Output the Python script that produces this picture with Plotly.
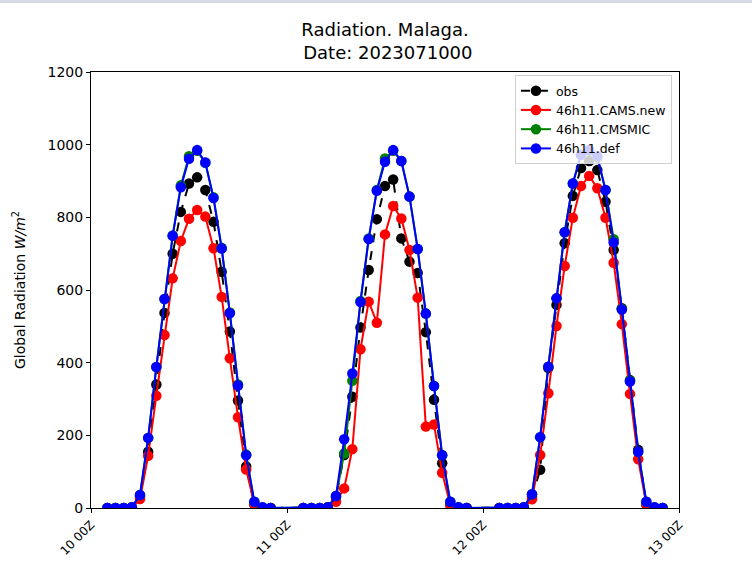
import pandas as pd
import plotly.graph_objects as go

# Hours (UTC) after 2023-07-10 00Z with data: 02Z..22Z on each of the three days
hours = [d * 24 + h for d in range(3) for h in range(2, 23)]

obs = [
    0, 0, 0, 2, 30, 155, 340, 537, 700, 815, 893, 910, 875, 788, 650, 486, 296, 114, 10, 0, 0,
    0, 0, 0, 2, 30, 146, 306, 497, 655, 795, 886, 904, 742, 678, 647, 484, 298, 123, 8, 0, 0,
    0, 0, 0, 2, 30, 105, 385, 559, 729, 859, 936, 955, 930, 843, 710, 550, 352, 160, 10, 0, 0,
]
cams_new = [
    0, 0, 0, 0, 25, 144, 309, 476, 632, 735, 796, 820, 802, 715, 581, 412, 250, 106, 10, 0, 0,
    0, 0, 0, 0, 17, 54, 162, 437, 568, 510, 753, 831, 797, 710, 579, 224, 230, 97, 8, 0, 0,
    0, 0, 0, 0, 24, 146, 316, 501, 666, 799, 886, 914, 880, 799, 675, 506, 314, 134, 10, 0, 0,
]
cmsmic = [
    0, 0, 0, 2, 36, 193, 388, 575, 750, 888, 968, 983, 950, 855, 716, 538, 340, 147, 17, 2, 0,
    0, 0, 0, 2, 33, 150, 350, 570, 742, 875, 962, 983, 955, 857, 713, 535, 336, 145, 17, 2, 0,
    0, 0, 0, 2, 38, 195, 389, 577, 759, 893, 972, 983, 965, 875, 740, 548, 350, 155, 17, 2, 0,
]
default = [
    0, 0, 0, 2, 36, 193, 388, 575, 749, 883, 961, 985, 951, 853, 714, 536, 337, 145, 17, 2, 0,
    0, 0, 0, 2, 33, 189, 370, 567, 740, 873, 953, 985, 955, 857, 713, 535, 336, 145, 17, 2, 0,
    0, 0, 0, 2, 38, 195, 389, 577, 759, 893, 972, 985, 968, 875, 731, 546, 348, 155, 17, 2, 0,
]

series_names = ["obs", "46h11.CAMS.new", "46h11.CMSMIC", "46h11.def"]
series_colors = ["black", "red", "green", "blue"]
series_dash = ["dash", "solid", "solid", "solid"]
series_values = [obs, cams_new, cmsmic, default]

base = pd.Timestamp("2023-07-10 00:00")
times = [base + pd.Timedelta(hours=h) for h in hours]

FONT = "DejaVu Sans"

fig = go.Figure()
for name, color, dash, vals in zip(series_names, series_colors, series_dash, series_values):
    fig.add_trace(go.Scatter(
        x=times, y=vals, name=name, mode="lines+markers",
        line=dict(color=color, width=2, dash=dash),
        marker=dict(color=color, size=10.5, symbol="circle"),
    ))

L, R, T, B = 91, 73, 72, 62
W, H = 752, 570
plot_h = H - T - B

fig.update_layout(
    width=W, height=H,
    margin=dict(l=L, r=R, t=T, b=B),
    paper_bgcolor="white", plot_bgcolor="white",
    font=dict(family=FONT, color="black"),
    title=dict(
        text="Radiation. Malaga.<br>&nbsp;Date: 2023071000",
        x=(L + (W - L - R) / 2) / W, xanchor="center",
        y=1 - 36 / H, yanchor="top",
        font=dict(size=18, family=FONT),
    ),
    showlegend=True,
    legend=dict(
        x=0.988, y=0.993, xanchor="right", yanchor="top",
        bgcolor="rgba(255,255,255,0.8)", bordercolor="#d0d0d0", borderwidth=1,
        font=dict(size=12.5, family=FONT), itemwidth=30, tracegroupgap=0,
    ),
    xaxis=dict(
        type="date",
        range=[base, base + pd.Timedelta(hours=72)],
        tickvals=[base + pd.Timedelta(hours=24 * k) for k in range(4)],
        tickformat="%d %HZ", tickangle=-45,
        tickfont=dict(size=12, family=FONT),
        ticks="outside", ticklen=4, tickcolor="black",
        showline=True, linecolor="black", linewidth=1, mirror=True,
        showgrid=False, zeroline=False,
    ),
    yaxis=dict(
        range=[0, 1200], tickvals=list(range(0, 1201, 200)),
        tickfont=dict(size=14, family=FONT),
        ticks="outside", ticklen=4, tickcolor="black",
        showline=True, linecolor="black", linewidth=1, mirror=True,
        showgrid=False, zeroline=False,
        title=dict(text="Global Radiation <i>W/m</i><sup>2</sup>",
                   font=dict(size=14, family=FONT), standoff=18),
    ),
    shapes=[dict(type="rect", xref="paper", yref="paper",
                 x0=-L / (W - L - R), x1=1 + R / (W - L - R),
                 y0=1 + (T - 3) / plot_h, y1=1 + T / plot_h,
                 fillcolor="#d6dbe3", line=dict(width=0), layer="above")],
    annotations=[dict(text="Hour", xref="paper", yref="paper",
                      x=0.5, y=-(H - T - 4 - plot_h) / plot_h,
                      xanchor="center", yanchor="top", showarrow=False,
                      font=dict(size=14, family=FONT))],
)

fig.write_html("out.html")
